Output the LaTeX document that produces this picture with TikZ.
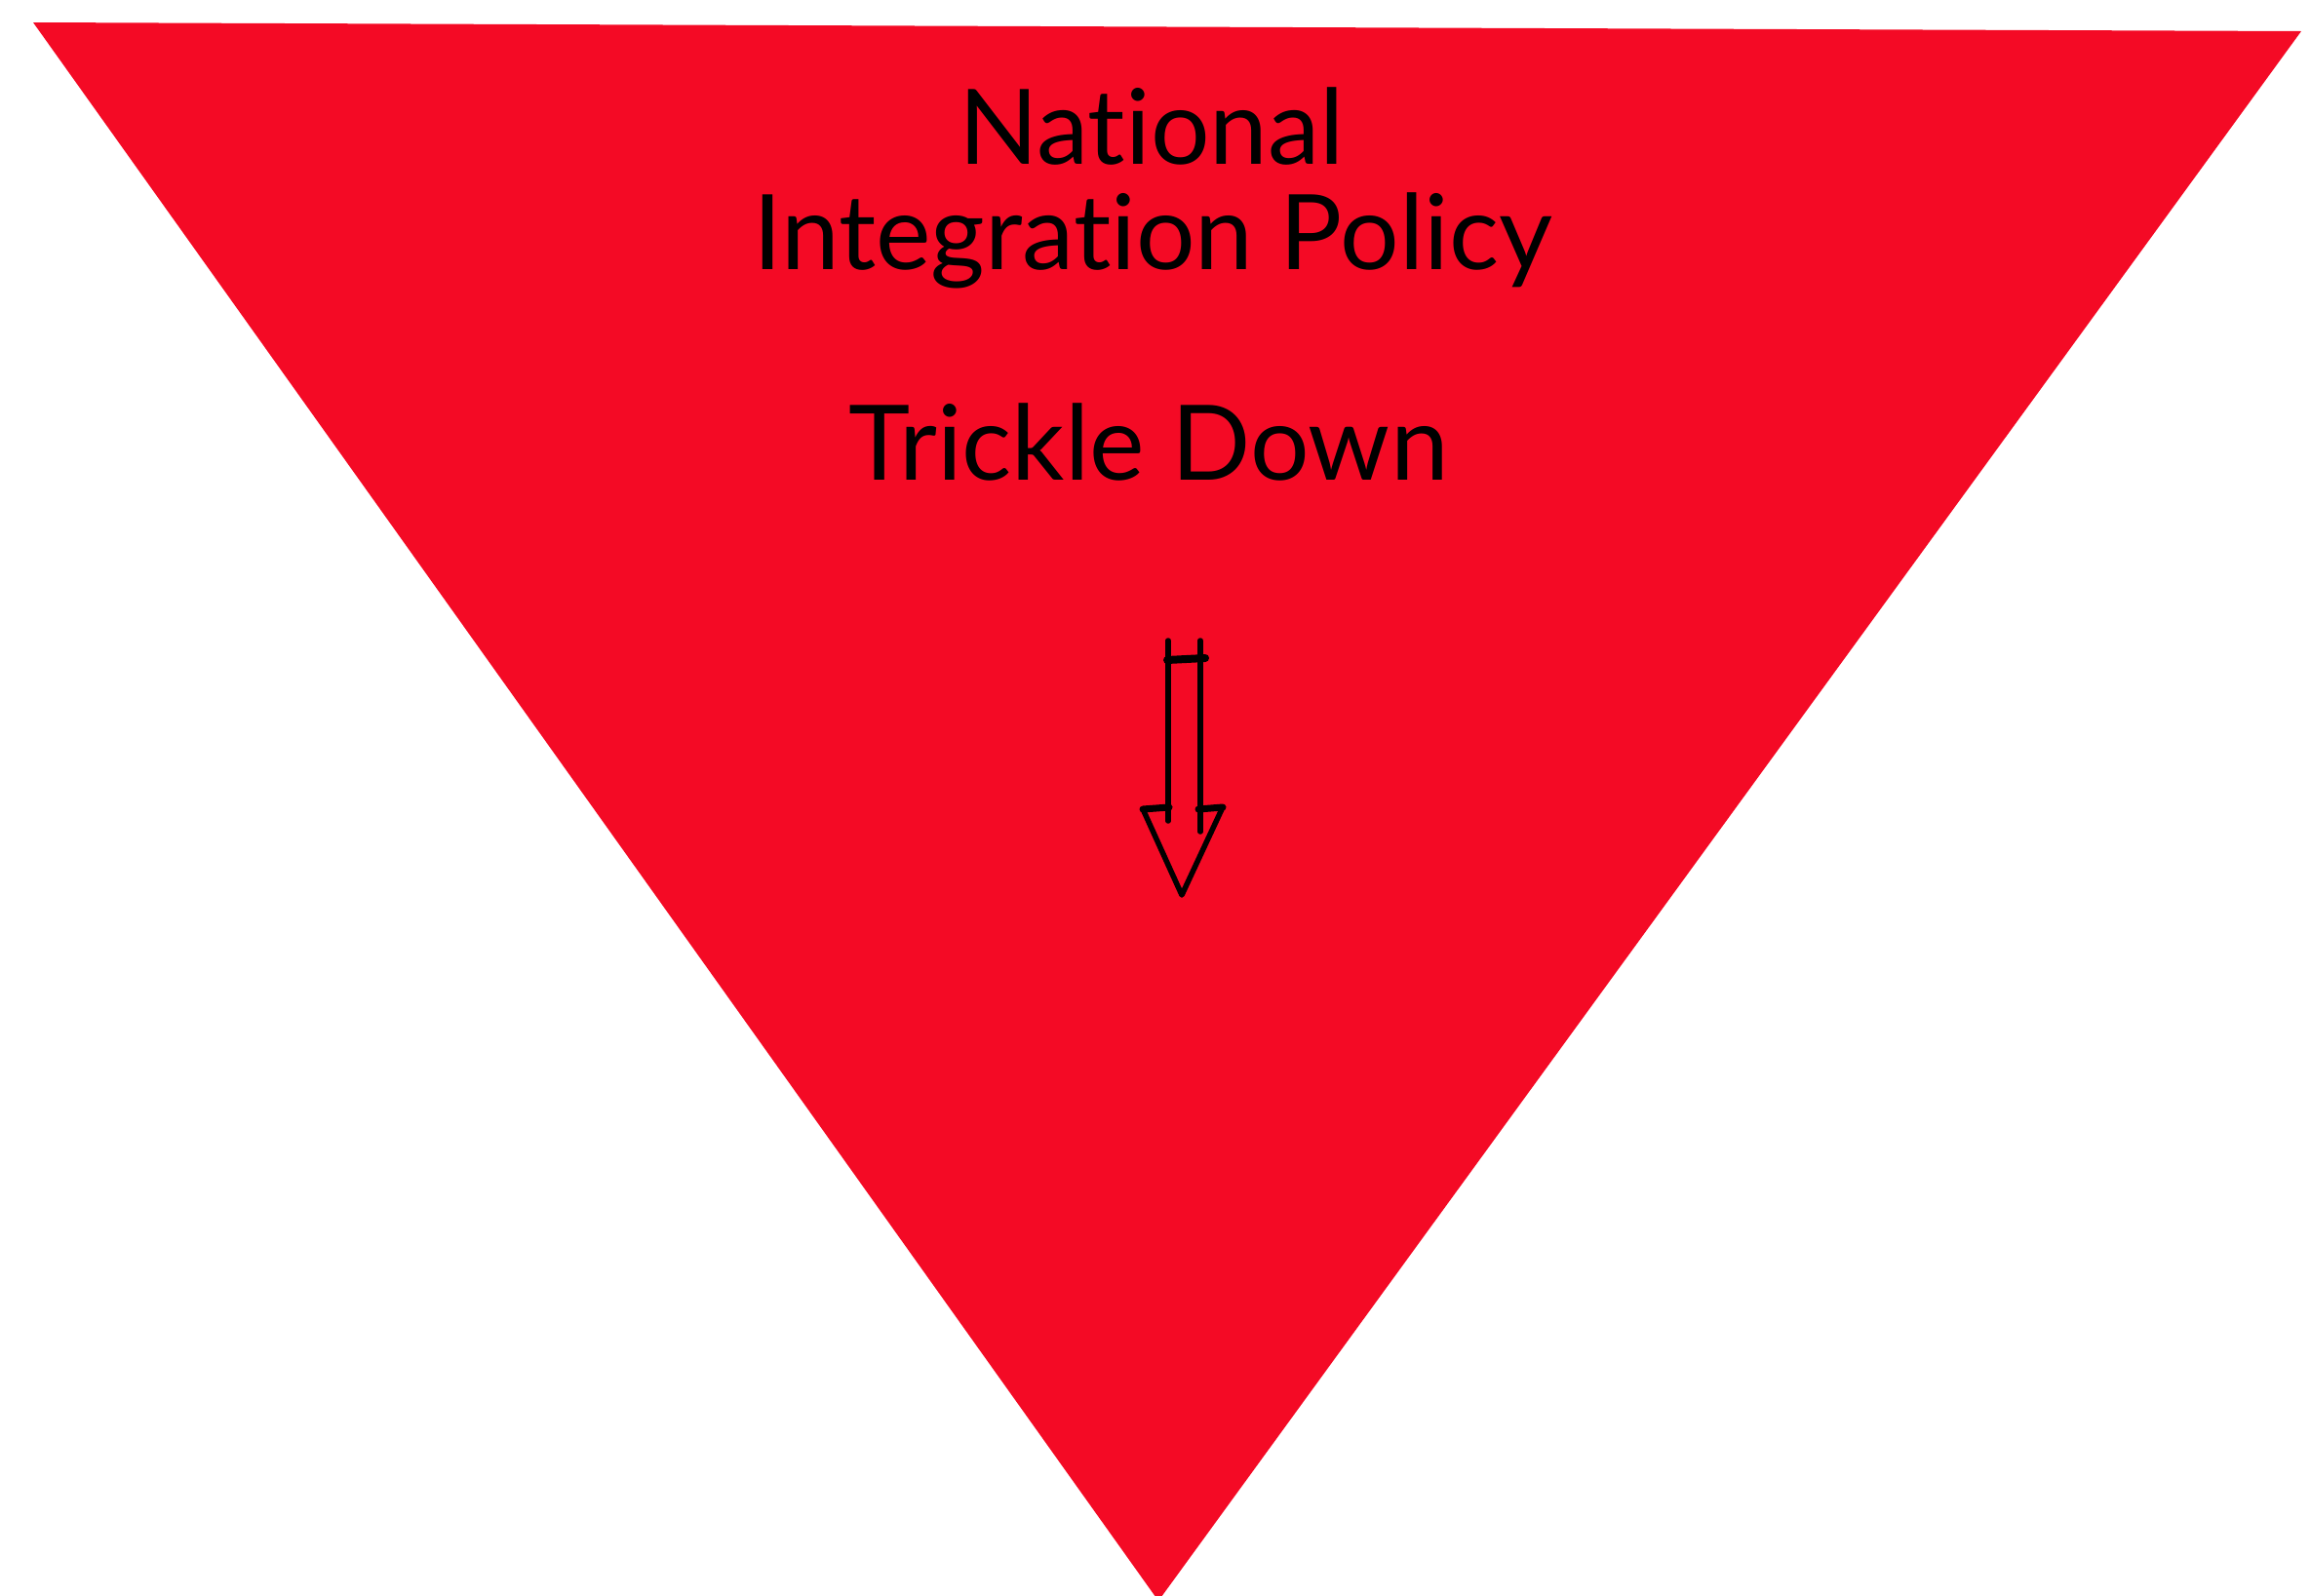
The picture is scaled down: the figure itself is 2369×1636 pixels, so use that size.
\documentclass[tikz,border=0pt]{standalone}
\usepackage{fontspec}
\setmainfont{Lato}[Ligatures={NoCommon,NoContextual},RawFeature={-liga}]
\definecolor{tri}{RGB}{244,10,37}
\begin{document}
\begin{tikzpicture}[x=1pt,y=-1pt,
  lbl/.style={anchor=base,inner sep=0pt,font=\fontsize{107}{108}\selectfont},
  ink/.style={draw=black,line width=5.5pt,line cap=round,line join=round}]
\useasboundingbox (0,0) rectangle (2369,1636);
\fill[tri] (34,23) -- (2360,32) -- (1188,1642) -- cycle;
\node[lbl] (nat) at (1181,168) {National};
\node[lbl] (integ) at (1182,276) {Integration Policy};
\node[lbl] (trickle) at (1178,492) {Trickle Down};
% hand-drawn arrow
\draw[ink] (1198,657) -- (1198,842);
\draw[ink] (1231,657) -- (1231,853);
\draw[ink,line width=8pt] (1197,677) -- (1236,675);
\draw[ink,line width=7pt] (1172,830) -- (1199,828);
\draw[ink,line width=7pt] (1229,830) -- (1254,828);
\draw[ink] (1173,832) -- (1212,918) -- (1253,830);
\end{tikzpicture}
\end{document}
